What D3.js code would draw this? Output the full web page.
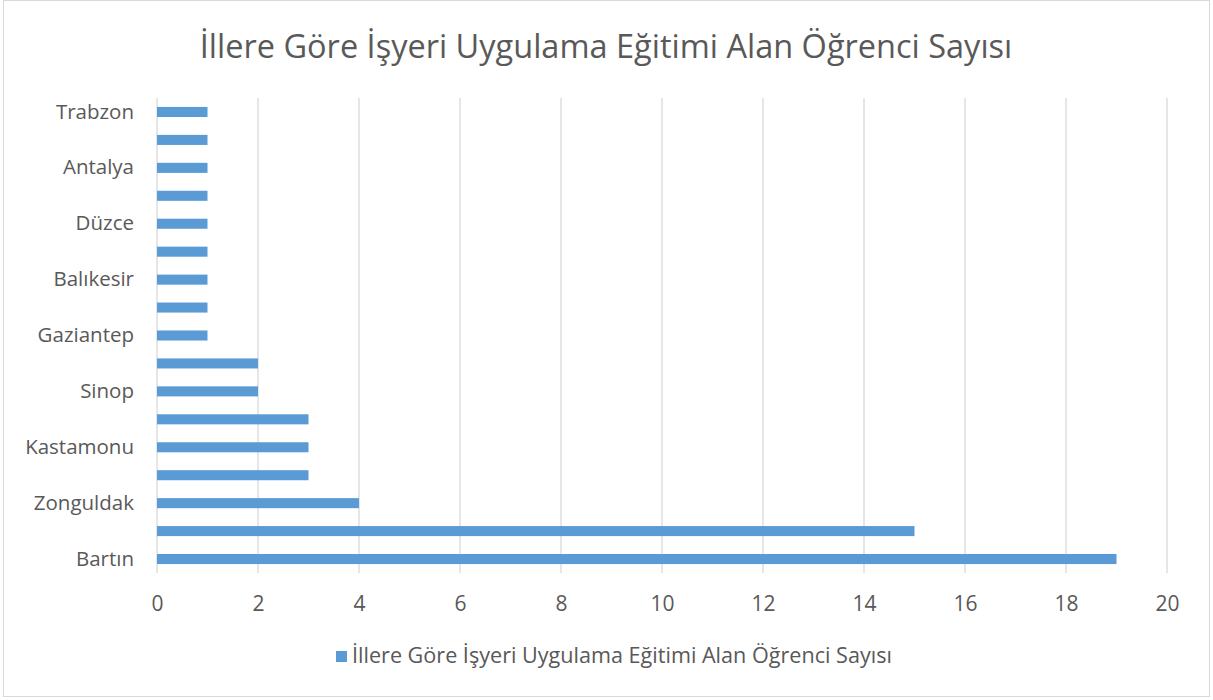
<!DOCTYPE html>
<html>
<head>
<meta charset="utf-8">
<script src="https://cdn.jsdelivr.net/npm/d3@7"></script>
<style>
  body { margin: 0; background: #fff; }
  text { font-family: "Open Sans", "Noto Sans", sans-serif; fill: #595959; }
</style>
</head>
<body>
<div id="chart"></div>
<script>
// bottom to top, as Excel draws them; only every other label is shown
const categories = ['Bartın', 'İl 2', 'Zonguldak', 'İl 4', 'Kastamonu', 'İl 6', 'Sinop', 'İl 8',
  'Gaziantep', 'İl 10', 'Balıkesir', 'İl 12', 'Düzce', 'İl 14', 'Antalya', 'İl 16', 'Trabzon'];
const values = [19, 15, 4, 3, 3, 3, 2, 2, 1, 1, 1, 1, 1, 1, 1, 1, 1];
const xTicks = [0, 2, 4, 6, 8, 10, 12, 14, 16, 18, 20];
const seriesName = 'İllere Göre İşyeri Uygulama Eğitimi Alan Öğrenci Sayısı';

const W = 1213, H = 700;
const plot = { left: 157, right: 1167, top: 98, bottom: 573 };
const barColor = '#5B9BD5';
const labelSize = 20.5;

var svg = d3.select('#chart').append('svg')
  .attr('width', W)
  .attr('height', H);

svg.append('rect')
  .attr('x', 3.5).attr('y', 0.5)
  .attr('width', W - 7).attr('height', H - 4)
  .attr('fill', '#fff')
  .attr('stroke', '#d9d9d9');

svg.append('text')
  .attr('x', 606).attr('y', 58)
  .attr('text-anchor', 'middle')
  .attr('font-size', 32.5)
  .text(seriesName);

var x = d3.scaleLinear()
  .domain([0, 20])
  .range([plot.left, plot.right]);

var y = d3.scaleBand()
  .domain(d3.range(categories.length))
  .range([plot.bottom, plot.top])
  .paddingInner(0.64)
  .paddingOuter(0.32);

// gridlines
svg.append('g')
  .selectAll('line')
  .data(xTicks)
  .join('line')
  .attr('x1', d => x(d)).attr('x2', d => x(d))
  .attr('y1', plot.top).attr('y2', plot.bottom)
  .attr('stroke', '#d9d9d9')
  .attr('stroke-width', 1.3);

// bars
svg.append('g')
  .selectAll('rect')
  .data(values)
  .join('rect')
  .attr('x', x(0))
  .attr('y', (d, i) => y(i))
  .attr('width', d => x(d) - x(0))
  .attr('height', y.bandwidth())
  .attr('fill', barColor);

// x axis labels
var xAxis = svg.append('g')
  .attr('transform', 'translate(0,' + plot.bottom + ')')
  .call(d3.axisBottom(x).tickValues(xTicks).tickSize(0).tickPadding(23));
xAxis.select('.domain').remove();
xAxis.selectAll('text')
  .attr('font-size', 21)
  .attr('fill', '#595959')
  .style('font-family', '"Open Sans", sans-serif');

// y axis labels (every other category)
var yAxis = svg.append('g')
  .attr('transform', 'translate(' + (plot.left - 23) + ',0)')
  .call(d3.axisLeft(y).tickSize(0).tickPadding(0)
    .tickValues(d3.range(0, categories.length, 2))
    .tickFormat(i => categories[i]));
yAxis.select('.domain').remove();
yAxis.selectAll('text')
  .attr('font-size', labelSize)
  .attr('fill', '#595959')
  .style('font-family', '"Open Sans", sans-serif');

// legend
var legend = svg.append('g').attr('transform', 'translate(336,651)');
legend.append('rect')
  .attr('width', 11).attr('height', 11)
  .attr('fill', barColor);
legend.append('text')
  .attr('x', 16).attr('y', 12)
  .attr('font-size', 21.6)
  .text(seriesName);
</script>
</body>
</html>
